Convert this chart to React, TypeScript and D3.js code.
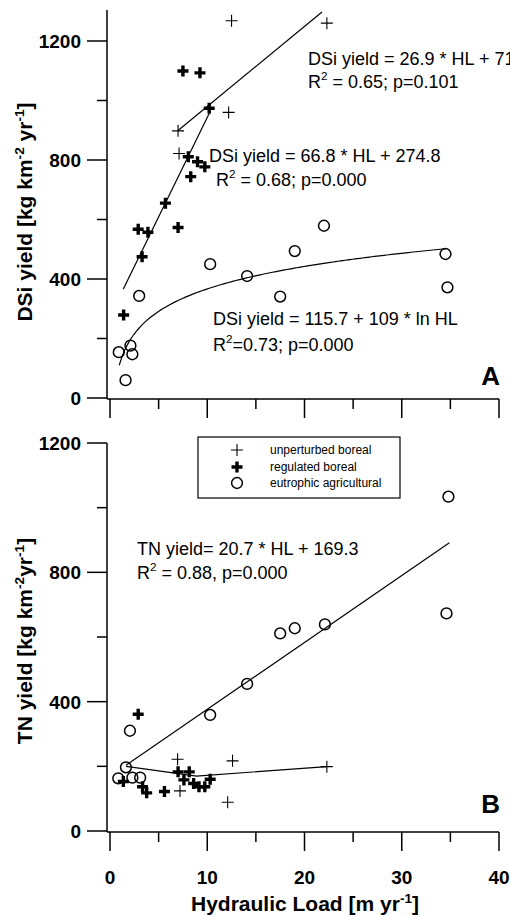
import React from "react";
import * as d3 from "d3";

// panel A: DSi yield vs hydraulic load
const unpA_HL = [12.5, 22.3, 12.2, 7.0, 7.1];
const unpA_DSi = [1268, 1260, 960, 898, 822];
const regA_HL = [7.5, 9.25, 10.2, 8.05, 9.0, 9.75, 8.3, 5.7, 2.9, 3.9, 7.0, 3.3, 1.4];
const regA_DSi = [1099, 1093, 974, 811, 794, 777, 744, 655, 567, 557, 573, 475, 279];
const eutA_HL = [10.3, 14.1, 3.0, 2.1, 0.9, 2.3, 1.6, 22.0, 19.0, 34.5, 34.7, 17.5];
const eutA_DSi = [450, 410, 343, 176, 154, 147, 60, 579, 494, 484, 372, 341];

// panel B: TN yield vs hydraulic load
const unpB_HL = [6.95, 12.6, 7.2, 12.1, 22.3];
const unpB_TN = [222, 217, 124, 89, 199];
const regB_HL = [2.9, 1.37, 3.35, 3.77, 5.6, 7.0, 8.15, 7.6, 8.6, 9.15, 9.75, 10.3];
const regB_TN = [361, 153, 137, 118, 122, 183, 183, 158, 147, 137, 137, 160];
const eutB_HL = [34.8, 34.6, 22.1, 19.0, 17.5, 14.1, 10.3, 2.05, 1.64, 0.85, 2.3, 3.1];
const eutB_TN = [1034, 673, 639, 627, 611, 455, 359, 310, 197, 163, 165, 165];

// boreal fit in panel B (broken line)
const borealFitHL = [1.65, 8.9, 22.3];
const borealFitTN = [200, 170, 199];

const xTicks = [0, 5, 10, 15, 20, 25, 30, 35, 40];
const xLabels = [0, 10, 20, 30, 40];
const yTicks = [0, 200, 400, 600, 800, 1000, 1200];
const yLabels = [0, 400, 800, 1200];

const legendItems = ["unperturbed boreal", "regulated boreal", "eutrophic agricultural"];

const FONT = "'Liberation Sans', Arial, Helvetica, sans-serif";

const x = d3.scaleLinear().domain([0, 40]).range([110, 499]);
const yA = d3.scaleLinear().domain([0, 1200]).range([398, 41]);
const yB = d3.scaleLinear().domain([0, 1200]).range([831, 443]);

const Thin = ({ cx, cy }: { cx: number; cy: number }) => (
  <path d={`M${cx - 6},${cy}H${cx + 6}M${cx},${cy - 6}V${cy + 6}`} stroke="#000" strokeWidth={1.1} />
);
const Thick = ({ cx, cy }: { cx: number; cy: number }) => (
  <path d={`M${cx - 5.5},${cy}H${cx + 5.5}M${cx},${cy - 5.5}V${cy + 5.5}`} stroke="#000" strokeWidth={3.4} />
);
const Ring = ({ cx, cy }: { cx: number; cy: number }) => (
  <circle cx={cx} cy={cy} r={5.4} fill="none" stroke="#000" strokeWidth={1.5} />
);

function Axes({ y, yTop }: { y: d3.ScaleLinear<number, number>; yTop: number }) {
  const y0 = y(0);
  return (
    <g stroke="#000" fill="none">
      <line x1={107} x2={107} y1={yTop} y2={y0 + 1} strokeWidth={1.5} />
      <line x1={107} x2={499} y1={y0 + 1} y2={y0 + 1} strokeWidth={1.5} />
      {yTicks.map((t) => (
        <line key={t} x1={yLabels.includes(t) ? 87 : 97} x2={107} y1={y(t)} y2={y(t)} strokeWidth={1.5} />
      ))}
      {xTicks.map((t) => (
        <line key={t} x1={x(t)} x2={x(t)} y1={y0 + 1} y2={y0 + (xLabels.includes(t) ? 20 : 11)} strokeWidth={1.5} />
      ))}
    </g>
  );
}

function YLabels({ y }: { y: d3.ScaleLinear<number, number> }) {
  return (
    <g fontFamily={FONT} fontWeight="bold" fontSize={19} textAnchor="end">
      {yLabels.map((t) => (
        <text key={t} x={81} y={y(t) + 7}>{t}</text>
      ))}
    </g>
  );
}

const Sup = ({ children }: { children: React.ReactNode }) => (
  <tspan dy={-8} fontSize="0.65em">{children}</tspan>
);

export default function App() {
  const lineA_unp = d3.line<number>().x((h) => x(h)).y((h) => yA(26.9 * h + 711));
  const lineA_reg = d3.line<number>().x((h) => x(h)).y((h) => yA(66.8 * h + 274.8));
  const logHL = d3.range(0.95, 34.6, 0.25).concat([34.6]);
  const lineA_eut = d3.line<number>().x((h) => x(h)).y((h) => yA(115.7 + 109 * Math.log(h)));
  const lineB_eut = d3.line<number>().x((h) => x(h)).y((h) => yB(20.7 * h + 169.3));
  const lineB_bor = d3.line<number>().x((h) => x(h)).y((_, i) => yB(borealFitTN[i]));

  return (
    <svg width={510} height={915} style={{ position: "absolute", left: 0, top: 0, background: "#fff" }}>
      <rect width={510} height={915} fill="#fff" />

      {/* panel A */}
      <Axes y={yA} yTop={10} />
      <YLabels y={yA} />
      <g fill="none" stroke="#000" strokeWidth={1.2}>
        <path d={lineA_unp([7.0, 21.8]) || ""} />
        <path d={lineA_reg([1.37, 10.2]) || ""} />
        <path d={lineA_eut(logHL) || ""} />
      </g>
      {unpA_HL.map((h, i) => <Thin key={"ua" + i} cx={x(h)} cy={yA(unpA_DSi[i])} />)}
      {regA_HL.map((h, i) => <Thick key={"ra" + i} cx={x(h)} cy={yA(regA_DSi[i])} />)}
      {eutA_HL.map((h, i) => <Ring key={"ea" + i} cx={x(h)} cy={yA(eutA_DSi[i])} />)}

      <g fontFamily={FONT} fontSize={18} fill="#000">
        <text x={308} y={65}>DSi yield = 26.9 * HL + 71</text>
        <text x={308} y={88}>R<Sup>2</Sup><tspan dy={8}> = 0.65; p=0.101</tspan></text>
        <text x={209} y={162}>DSi yield = 66.8 * HL + 274.8</text>
        <text x={216} y={186}>R<Sup>2</Sup><tspan dy={8}> = 0.68; p=0.000</tspan></text>
        <text x={213} y={325}>DSi yield = 115.7 + 109 * ln HL</text>
        <text x={213} y={351}>R<Sup>2</Sup><tspan dy={8}>=0.73; p=0.000</tspan></text>
      </g>
      <text x={500} y={385} textAnchor="end" fontFamily={FONT} fontWeight="bold" fontSize={26}>A</text>
      <text transform="translate(32,212) rotate(-90)" textAnchor="middle" fontFamily={FONT} fontWeight="bold" fontSize={21}>
        DSi yield [kg km<Sup>-2</Sup><tspan dy={8}> yr</tspan><Sup>-1</Sup><tspan dy={8}>]</tspan>
      </text>

      {/* panel B */}
      <Axes y={yB} yTop={443} />
      <YLabels y={yB} />
      <g fontFamily={FONT} fontWeight="bold" fontSize={19} textAnchor="middle">
        {xLabels.map((t) => (
          <text key={t} x={x(t)} y={884}>{t}</text>
        ))}
      </g>
      <g fill="none" stroke="#000" strokeWidth={1.2}>
        <path d={lineB_eut([1.65, 34.9]) || ""} />
        <path d={lineB_bor(borealFitHL) || ""} />
      </g>
      {unpB_HL.map((h, i) => <Thin key={"ub" + i} cx={x(h)} cy={yB(unpB_TN[i])} />)}
      {regB_HL.map((h, i) => <Thick key={"rb" + i} cx={x(h)} cy={yB(regB_TN[i])} />)}
      {eutB_HL.map((h, i) => <Ring key={"eb" + i} cx={x(h)} cy={yB(eutB_TN[i])} />)}

      <g fontFamily={FONT} fontSize={18} fill="#000">
        <text x={137} y={555}>TN yield= 20.7 * HL + 169.3</text>
        <text x={137} y={579}>R<Sup>2</Sup><tspan dy={8}> = 0.88, p=0.000</tspan></text>
      </g>

      {/* legend */}
      <rect x={198} y={437} width={202} height={61} fill="#fff" stroke="#000" strokeWidth={1.2} />
      <Thin cx={237} cy={450} />
      <Thick cx={237} cy={467} />
      <Ring cx={237} cy={483} />
      <g fontFamily={FONT} fontSize={12}>
        {legendItems.map((s, i) => (
          <text key={s} x={270} y={454 + i * 16.5}>{s}</text>
        ))}
      </g>

      <text x={500} y={813} textAnchor="end" fontFamily={FONT} fontWeight="bold" fontSize={26}>B</text>
      <text transform="translate(32,641) rotate(-90)" textAnchor="middle" fontFamily={FONT} fontWeight="bold" fontSize={21}>
        TN yield [kg km<Sup>-2</Sup><tspan dy={8}>yr</tspan><Sup>-1</Sup><tspan dy={8}>]</tspan>
      </text>
      <text x={305} y={911} textAnchor="middle" fontFamily={FONT} fontWeight="bold" fontSize={21}>
        Hydraulic Load [m yr<Sup>-1</Sup><tspan dy={8}>]</tspan>
      </text>
    </svg>
  );
}
